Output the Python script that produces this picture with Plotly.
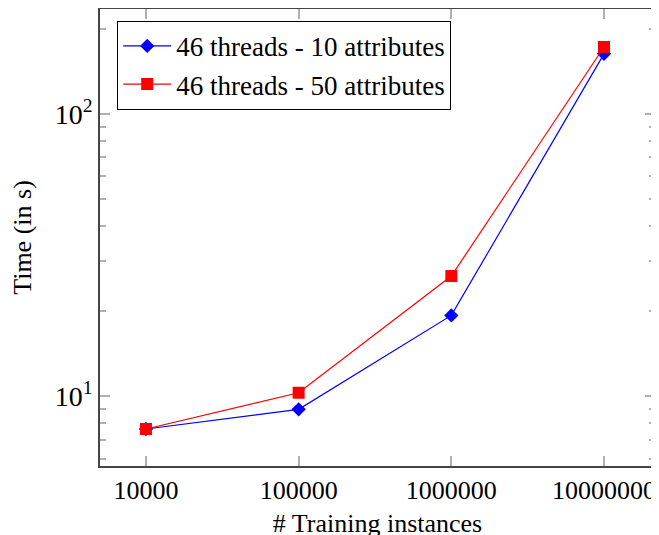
import plotly.graph_objects as go

instances = [10000, 100000, 1000000, 10000000]
tick_labels = ["10000", "100000", "1000000", "10000000"]
time_10attr = [7.64, 8.97, 19.3, 163]
time_50attr = [7.64, 10.27, 26.6, 172.4]
name_10 = "46 threads - 10 attributes"
name_50 = "46 threads - 50 attributes"

FONT = "'Liberation Serif', 'Times New Roman', serif"

fig = go.Figure()
fig.add_trace(go.Scatter(
    x=instances, y=time_10attr, name=name_10, mode="lines+markers",
    line=dict(color="#0000ff", width=1.2),
    marker=dict(symbol="diamond", size=11, color="#0000ff"),
))
fig.add_trace(go.Scatter(
    x=instances, y=time_50attr, name=name_50, mode="lines+markers",
    line=dict(color="#ff0000", width=1.2),
    marker=dict(symbol="square", size=12, color="#ff0000"),
))

minor_y = [6, 7, 8, 9, 20, 30, 40, 50, 60, 70, 80, 90, 200]

# page body has an 8px default margin, margins compensate for it
fig.update_layout(
    width=659, height=535,
    margin=dict(l=92, r=12, t=1, b=77),
    plot_bgcolor="white", paper_bgcolor="white",
    font=dict(family=FONT, size=26, color="black"),
    showlegend=True,
    legend=dict(
        x=0.031, y=0.974, xanchor="left", yanchor="top",
        bordercolor="black", borderwidth=1, bgcolor="white",
        font=dict(family=FONT, size=27),
        tracegroupgap=0, itemwidth=48,
    ),
    xaxis=dict(
        type="log", range=[3.699, 7.334], automargin=False,
        tickvals=instances, ticktext=tick_labels,
        ticks="inside", ticklen=10, tickcolor="#b0b0b0", tickwidth=1.5,
        showline=True, linecolor="#444444", linewidth=1.5, mirror="ticks",
        showgrid=False, zeroline=False,
        title=dict(text="# Training instances", font=dict(family=FONT, size=26), standoff=10),
        tickfont=dict(family=FONT, size=26),
    ),
    yaxis=dict(
        type="log", range=[0.752, 2.371], automargin=False,
        tickvals=[10, 100], ticktext=["10<sup>1</sup>", "10<sup>2</sup>"],
        ticks="inside", ticklen=10, tickcolor="#b0b0b0", tickwidth=1.5,
        showline=True, linecolor="#444444", linewidth=1.5, mirror="ticks",
        showgrid=False, zeroline=False,
        minor=dict(tickvals=minor_y, ticks="inside", ticklen=6, tickcolor="#b0b0b0", tickwidth=1.5, showgrid=False),
        title=dict(text="Time (in s)", font=dict(family=FONT, size=26), standoff=16),
        tickfont=dict(family=FONT, size=28),
    ),
)

fig.write_html("out.html")
